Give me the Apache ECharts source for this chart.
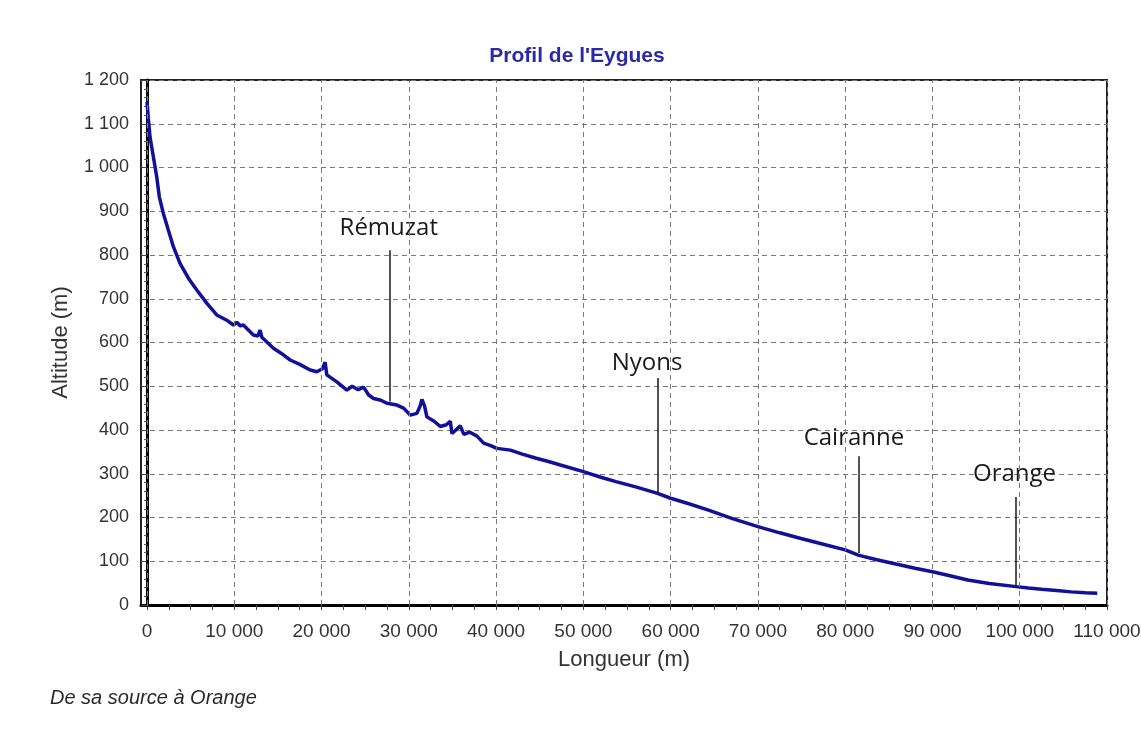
<!DOCTYPE html>
<html>
<head>
<meta charset="utf-8">
<script src="https://cdn.jsdelivr.net/npm/echarts@6/dist/echarts.min.js"></script>
<style>
  html, body { margin: 0; padding: 0; background: #fff; }
  #profil { width: 1141px; height: 735px; }
</style>
</head>
<body>
<div id="profil"></div>
<script>
// distance depuis la source (m) / altitude (m)
var distances = [
  0, 150, 340, 720, 1110, 1410, 1870, 2440, 3020, 3780, 4740, 5700, 6840, 7990, 9140, 9900,
  10290, 10700, 11040, 12190, 12700, 12960, 13150, 14490, 15400, 16400, 17500, 18690, 19460,
  20100, 20410, 20600, 21750, 22900, 23500, 24200, 24810, 25400, 25960, 26800, 27480, 28630,
  29400, 30160, 30920, 31300, 31500, 31800, 32070, 32900, 33600, 34300, 34750, 34940, 35400,
  35890, 36300, 37000, 37810, 38570, 39300, 40100, 41630, 43000, 44500, 46000, 47360, 50000,
  52000, 53730, 56000, 58500, 60000, 62000, 64340, 67000, 70000, 72500, 74940, 77500, 80000,
  81500, 83500, 85550, 88000, 90000, 92000, 94040, 96500, 99600, 101000, 102520, 104200,
  105900, 107500, 108880
];
var altitudes = [
  1150, 1112, 1070, 1025, 979, 933, 895, 857, 819, 781, 747, 720, 690, 663, 651, 640,
  646, 638, 640, 617, 615, 628, 612, 587, 575, 560, 550, 537, 533,
  540, 555, 526, 510, 491, 500, 492, 498, 480, 472, 468, 461, 457,
  450, 434, 438, 455, 470, 455, 430, 420, 408, 412, 420, 392, 400,
  410, 390, 395, 386, 370, 365, 358, 354, 345, 336, 328, 320, 305,
  292, 282, 270, 255, 244, 232, 217, 198, 179, 165, 152, 139, 126,
  114, 104, 95, 84, 76, 67, 57, 49, 42, 39, 36, 33,
  30, 28, 27
];

// repères
var townNames = ["Rémuzat", "Nyons", "Cairanne", "Orange"];
var townX = [27800, 58500, 81500, 99600];
var townLineTop = [811, 519, 340, 247];
var townLineBottom = [465, 256, 119, 41];
var townLabelX = [27700, 57300, 81000, 99400];
var townLabelY = [861, 552, 381, 299];

// graduations
var xTicks = [0, 10000, 20000, 30000, 40000, 50000, 60000, 70000, 80000, 90000, 100000, 110000];
var yTicks = [0, 100, 200, 300, 400, 500, 600, 700, 800, 900, 1000, 1100, 1200];

function fmt(v) {
  return String(v).replace(/\B(?=(\d{3})+(?!\d))/g, " ");
}

var profil = distances.map(function (d, i) { return [d, altitudes[i]]; });

// graduations secondaires tous les 2 500 m
var xAllTicks = [];
for (var k = 0; k < xTicks.length; k++) {
  xAllTicks.push(xTicks[k]);
  if (k < xTicks.length - 1) {
    for (var m = 1; m < 4; m++) xAllTicks.push(xTicks[k] + m * 2500);
  }
}

var townLines = townNames.map(function (n, i) {
  return [{ coord: [townX[i], townLineTop[i]] }, { coord: [townX[i], townLineBottom[i]] }];
});
var townLabels = townNames.map(function (n, i) {
  return { name: n, value: [townLabelX[i], townLabelY[i]] };
});
var xGridLines = xTicks.map(function (v) { return { xAxis: v }; });

var chart = echarts.init(document.getElementById("profil"));
chart.setOption({
  backgroundColor: "#fff",
  animation: false,
  textStyle: { fontFamily: "Liberation Sans, Arial, sans-serif" },
  title: {
    text: "Profil de l'Eygues",
    left: 572,
    textAlign: "center",
    top: 41,
    textStyle: { color: "#2a2aa8", fontSize: 21, fontWeight: "bold" }
  },
  grid: {
    left: 141,
    right: 34,
    top: 80,
    bottom: 130,
    outerBoundsMode: "none",
    containLabel: false,
    show: true,
    borderColor: "#222",
    borderWidth: 2,
    backgroundColor: "#fff"
  },
  xAxis: {
    type: "value",
    min: -690,
    max: 110000,
    name: "Longueur (m)",
    nameLocation: "middle",
    nameGap: 44,
    nameTextStyle: { color: "#333", fontSize: 22 },
    axisLine: { show: true, lineStyle: { color: "#000", width: 3 } },
    axisTick: { show: true, customValues: xAllTicks, length: 5, lineStyle: { color: "#444" } },
    axisLabel: {
      customValues: xTicks,
      formatter: fmt,
      color: "#333",
      fontSize: 19,
      margin: 17
    },
    splitLine: { show: false }
  },
  yAxis: {
    type: "value",
    min: 0,
    max: 1200,
    interval: 100,
    name: "Altitude (m)",
    nameLocation: "middle",
    nameGap: 69,
    nameTextStyle: { color: "#333", fontSize: 22 },
    axisLine: { show: true, lineStyle: { color: "#000", width: 3 } },
    axisTick: { show: true, length: 6, lineStyle: { color: "#444" } },
    minorTick: { show: true, splitNumber: 5, length: 3, lineStyle: { color: "#555" } },
    axisLabel: {
      formatter: function (v) { return yTicks.indexOf(v) >= 0 ? fmt(v) : ""; },
      color: "#333",
      fontSize: 18,
      margin: 12
    },
    splitLine: { show: true, lineStyle: { color: "#7a7a7a", type: [5, 4], width: 1 } }
  },
  series: [
    {
      type: "line",
      data: profil,
      showSymbol: false,
      lineStyle: { color: "#10109a", width: 3.5 },
      z: 3,
      markLine: {
        silent: true,
        symbol: "none",
        label: { show: false },
        lineStyle: { color: "#1a1a1a", width: 1.5, type: "solid", opacity: 1 },
        data: townLines
      }
    },
    {
      // quadrillage vertical
      type: "line",
      data: [],
      z: 1,
      markLine: {
        silent: true,
        symbol: "none",
        label: { show: false },
        lineStyle: { color: "#7a7a7a", width: 1, type: [5, 4], opacity: 1 },
        data: xGridLines
      }
    },
    {
      type: "scatter",
      data: townLabels,
      symbolSize: 0,
      silent: true,
      itemStyle: { opacity: 1 },
      label: {
        show: true,
        position: "inside",
        formatter: "{b}",
        fontFamily: "Open Sans",
        fontSize: 24,
        color: "#1a1a1a"
      }
    }
  ],
  graphic: [
    {
      type: "text",
      left: 50,
      top: 688,
      style: {
        text: "De sa source à Orange",
        fill: "#2a2a2a",
        font: "italic 20px 'Liberation Sans', Arial, sans-serif"
      }
    }
  ]
});
window.onresize = function () {
  chart.resize();
};
</script>
</body>
</html>
